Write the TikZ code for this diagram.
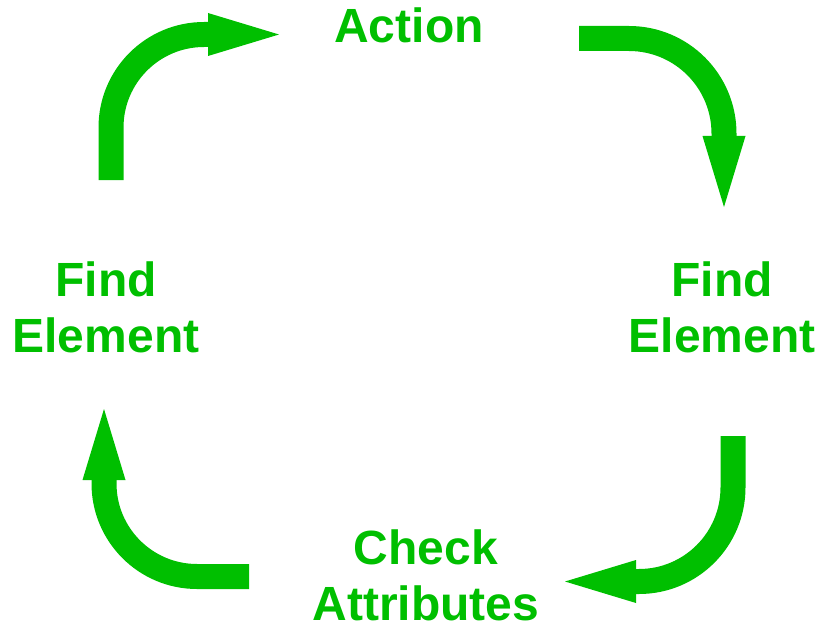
\documentclass[tikz,border=0pt]{standalone}
\usepackage{fontspec}
\setmainfont{Liberation Sans}
\usetikzlibrary{arrows.meta}
\definecolor{cyclegreen}{RGB}{0,191,0}
\tikzset{
  lbl/.style={text=cyclegreen, font=\fontsize{48}{56}\selectfont\bfseries, align=center, anchor=base, inner sep=0pt},
  cyclearrow/.style={draw=cyclegreen, line width=25pt, -{Triangle[length=71pt 0 0, width=43pt 0 0, line width=0pt, fill=cyclegreen]}}
}
\begin{document}
\begin{tikzpicture}[x=1pt,y=-1pt]
\useasboundingbox (0,0) rectangle (823,626);
% labels
\node[lbl] (action) at (409,43) {Action};
\node[lbl] (findR) at (722,352) {Find\\Element};
\node[lbl] (check) at (426,620) {Check\\Attributes};
\node[lbl] (findL) at (106,352) {Find\\Element};
% arrow end points
\coordinate (tlS) at (111,180);
\coordinate (tlC) at (111,34.5);
\coordinate (tlE) at (279,34.5);
\coordinate (trS) at (579,38.5);
\coordinate (trC) at (724,38.5);
\coordinate (trE) at (724,207);
\coordinate (brS) at (733,436);
\coordinate (brC) at (733,581.5);
\coordinate (brE) at (565,581.5);
\coordinate (blS) at (249,576.5);
\coordinate (blC) at (104,576.5);
\coordinate (blE) at (104,409);
% arrows
\draw[cyclearrow, rounded corners=93pt] (tlS) -- (tlC) -- (tlE);
\draw[cyclearrow, rounded corners=95pt] (trS) -- (trC) -- (trE);
\draw[cyclearrow, rounded corners=94pt] (brS) -- (brC) -- (brE);
\draw[cyclearrow, rounded corners=93pt] (blS) -- (blC) -- (blE);
\end{tikzpicture}
\end{document}
